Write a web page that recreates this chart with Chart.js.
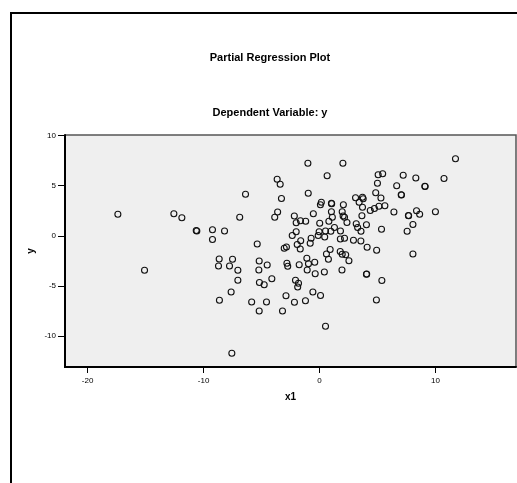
<!DOCTYPE html>
<html>
<head>
<meta charset="utf-8">
<title>Partial Regression Plot</title>
<script src="https://cdn.jsdelivr.net/npm/chart.js@4/dist/chart.umd.min.js"></script>
<style>
  html, body { margin: 0; padding: 0; background: #ffffff; }
  canvas { display: block; }
</style>
</head>
<body>
<canvas id="plot" width="517" height="483"></canvas>
<script>
// Partial residuals: x1 (controlling for other predictors) vs y
const x1Values = [
  -17.39, -15.09, -12.56, -11.87, -10.63, -10.58, -9.23, -8.19, -9.23, -6.38,
  -6.88, -5.37, -8.65, -7.50, -8.71, -7.76, -7.04, -7.04, -5.20, -4.51,
  -5.23, -5.18, -4.77, -4.11, -7.62, -8.63, -5.85, -4.57, -5.20, -3.19,
  -7.56, -3.65, -3.39, -3.28, -3.61, -3.86, -1.00, 2.02, 0.66, -0.97,
  -2.17, -2.01, -1.64, -1.19, -0.53, -2.01, -2.35, -1.62, -1.92, -1.66,
  -3.04, -2.85, -0.72, -0.80, -0.11, 0.08, 0.16, 1.03, 1.05, 2.06,
  1.03, 1.96, 2.04, 2.16, 2.37, 1.11, 0.81, 0.02, -0.03, 0.52,
  0.98, 1.29, 1.81, 0.45, 1.80, 2.16, 0.92, 0.60, 0.77, 1.79,
  1.96, 2.26, 2.54, -1.09, -0.95, -0.41, -1.75, -1.06, -0.37, 0.42,
  1.94, -2.81, -2.74, -2.07, -1.81, -1.88, -2.89, -2.16, -1.21, -0.57,
  0.09, 0.52, 11.73, 5.06, 5.45, 7.22, 8.31, 10.74, 5.00, 6.66,
  9.09, 9.11, 4.85, 7.05, 7.07, 3.11, 3.71, 3.77, 3.42, 5.30,
  3.71, 4.38, 4.74, 5.13, 5.64, 6.42, 7.67, 7.69, 8.37, 8.64,
  10.00, 3.66, 3.17, 3.29, 3.58, 4.05, 5.35, 8.06, 7.56, 2.93,
  3.57, 4.11, 4.93, 8.06, 4.05, 4.07, 5.38, 4.91
];
const yValues = [
  2.17, -3.43, 2.23, 1.83, 0.55, 0.50, 0.63, 0.50, -0.35, 4.18,
  1.87, -0.80, -2.30, -2.33, -3.00, -3.00, -3.43, -4.42, -2.50, -2.90,
  -3.40, -4.65, -4.87, -4.27, -5.60, -6.43, -6.60, -6.60, -7.50, -7.50,
  -11.73, 5.67, 5.18, 3.75, 2.40, 1.88, 7.27, 7.27, 6.03, 4.28,
  2.00, 1.33, 1.53, 1.47, 2.23, 0.43, 0.05, -0.47, -0.85, -1.30,
  -1.23, -1.10, -0.22, -0.73, 0.05, 3.13, 3.38, 3.27, 3.22, 3.12,
  2.43, 2.43, 2.00, 1.88, 1.35, 1.87, 1.48, 1.27, 0.43, 0.50,
  0.47, 0.85, 0.50, -0.10, -0.30, -0.23, -1.35, -1.80, -2.33, -1.55,
  -1.82, -1.88, -2.48, -2.23, -2.78, -2.63, -2.88, -3.40, -3.78, -3.60,
  -3.40, -2.73, -3.02, -4.42, -4.73, -5.10, -5.97, -6.62, -6.48, -5.60,
  -5.95, -9.02, 7.73, 6.13, 6.22, 6.08, 5.80, 5.75, 5.28, 5.03,
  4.97, 4.95, 4.33, 4.13, 4.10, 3.83, 3.87, 3.73, 3.37, 3.80,
  2.88, 2.55, 2.75, 2.98, 3.03, 2.40, 2.05, 2.03, 2.52, 2.18,
  2.43, 2.03, 1.23, 0.85, 0.47, 1.12, 0.67, 1.15, 0.48, -0.43,
  -0.50, -1.12, -1.42, -1.80, -3.83, -3.80, -4.45, -6.40
];

// Axis ranges and tick values
const xRange = [-21.95, 16.95];
const yRange = [-13.1, 10.1];
const xTicks = [-20, -10, 0, 10];
const yTicks = [-10, -5, 0, 5, 10];

const FONT = '"Liberation Sans", Arial, Helvetica, sans-serif';

// Page frame, plot background and plot border
const framePlugin = {
  id: 'frame',
  beforeDraw(chart) {
    const { ctx, chartArea: a } = chart;
    ctx.save();
    ctx.fillStyle = '#ffffff';
    ctx.fillRect(0, 0, chart.width, chart.height);
    ctx.fillStyle = '#efefef';
    ctx.fillRect(a.left, a.top, a.right - a.left, a.bottom - a.top);
    ctx.strokeStyle = '#000000';
    ctx.lineWidth = 2;
    ctx.beginPath();
    ctx.moveTo(11, chart.height);
    ctx.lineTo(11, 13);
    ctx.lineTo(chart.width, 13);
    ctx.stroke();
    ctx.restore();
  },
  beforeDatasetsDraw(chart) {
    const { ctx, chartArea: a } = chart;
    ctx.save();
    ctx.strokeStyle = '#555555';
    ctx.lineWidth = 1.5;
    ctx.beginPath();
    ctx.moveTo(a.left, a.top);
    ctx.lineTo(a.right, a.top);
    ctx.lineTo(a.right, a.bottom);
    ctx.stroke();
    ctx.strokeStyle = '#000000';
    ctx.lineWidth = 2;
    ctx.beginPath();
    ctx.moveTo(a.left, a.top - 0.75);
    ctx.lineTo(a.left, a.bottom);
    ctx.lineTo(a.right + 0.75, a.bottom);
    ctx.stroke();
    ctx.restore();
  }
};

new Chart(document.getElementById('plot'), {
  type: 'scatter',
  data: {
    datasets: [{
      data: x1Values.map((x, i) => ({ x: x, y: yValues[i] })),
      pointRadius: 3,
      pointHoverRadius: 3,
      pointBorderWidth: 1.1,
      pointBorderColor: '#111111',
      pointBackgroundColor: 'rgba(0,0,0,0)'
    }]
  },
  options: {
    responsive: false,
    animation: false,
    devicePixelRatio: 1,
    events: [],
    layout: { autoPadding: false, padding: { left: 24, right: 1, top: 0, bottom: 0 } },
    plugins: {
      legend: { display: false },
      tooltip: { enabled: false },
      title: {
        display: true,
        text: 'Partial Regression Plot',
        color: '#000000',
        font: { family: FONT, size: 11, weight: 'bold', lineHeight: 1.2 },
        padding: { top: 50.9, bottom: 0 }
      },
      subtitle: {
        display: true,
        text: 'Dependent Variable: y',
        color: '#000000',
        font: { family: FONT, size: 11, weight: 'bold', lineHeight: 1.2 },
        padding: { top: 42.1, bottom: 15.6 }
      }
    },
    scales: {
      x: {
        type: 'linear',
        position: 'bottom',
        min: xRange[0],
        max: xRange[1],
        afterBuildTicks: (s) => { s.ticks = xTicks.map(v => ({ value: v })); },
        afterFit: (s) => { s.height = 116; },
        grid: { drawOnChartArea: false, drawTicks: true, tickLength: 6, color: '#000000', lineWidth: 1 },
        border: { display: false },
        ticks: {
          padding: 3,
          autoSkip: false,
          maxRotation: 0,
          color: '#000000',
          font: { family: FONT, size: 8 }
        },
        title: {
          display: true,
          text: 'x1',
          color: '#000000',
          font: { family: FONT, size: 10, weight: 'bold', lineHeight: 1.2 },
          padding: { top: 4, bottom: 79.7 }
        }
      },
      y: {
        type: 'linear',
        position: 'left',
        min: yRange[0],
        max: yRange[1],
        afterBuildTicks: (s) => { s.ticks = yTicks.map(v => ({ value: v })); },
        afterFit: (s) => { s.width = 41; },
        grid: { drawOnChartArea: false, drawTicks: true, tickLength: 7, color: '#000000', lineWidth: 1 },
        border: { display: false },
        ticks: {
          padding: 2,
          autoSkip: false,
          color: '#000000',
          font: { family: FONT, size: 8 }
        },
        title: {
          display: true,
          text: 'y',
          color: '#000000',
          font: { family: FONT, size: 10, weight: 'bold', lineHeight: 1.2 },
          padding: { top: 1, bottom: 0 }
        }
      }
    }
  },
  plugins: [framePlugin]
});
</script>
</body>
</html>
